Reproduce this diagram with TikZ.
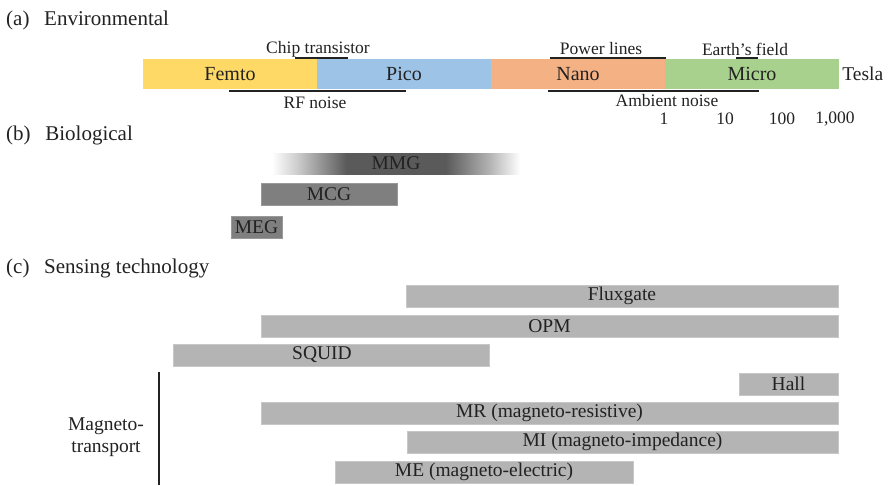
\documentclass[tikz,border=0pt]{standalone}
\usepackage{fontspec}
\setmainfont{Liberation Serif}
\usetikzlibrary{positioning}
\definecolor{femtocol}{HTML}{FFD966}
\definecolor{picocol}{HTML}{9DC3E6}
\definecolor{nanocol}{HTML}{F4B183}
\definecolor{microcol}{HTML}{A9D18E}
\definecolor{biogray}{HTML}{7F7F7F}
\definecolor{mmgdark}{HTML}{5A5A5A}
\definecolor{techgray}{HTML}{B4B4B4}
\definecolor{inkcol}{HTML}{222222}
\pgfdeclarehorizontalshading{mmgshade}{100bp}{color(0bp)=(white); color(25bp)=(white); color(30bp)=(mmgdark!30!white); color(40bp)=(mmgdark); color(60bp)=(mmgdark); color(69bp)=(mmgdark!45!white); color(75bp)=(white); color(100bp)=(white)}
\tikzset{
	scalebar/.style = {minimum width=174pt, minimum height=30pt, inner sep=0pt, text=inkcol, font=\fontsize{20}{24}\selectfont},
	biobar/.style = {fill=biogray, draw=biogray!80!white, minimum height=22pt, inner sep=0pt, text=inkcol, font=\fontsize{19.5}{22}\selectfont},
	techbar/.style = {fill=techgray, draw=techgray!75!white, minimum height=22pt, inner sep=0pt, text=inkcol, font=\fontsize{19.5}{22}\selectfont},
	rangeline/.style = {line width=2pt, draw=inkcol},
	seclabel/.style = {anchor=base west, inner sep=0pt, text=inkcol, font=\fontsize{21}{25}\selectfont},
	smalllabel/.style = {inner sep=0pt, text=inkcol, font=\fontsize{17.5}{20}\selectfont},
}

\begin{document}
\begin{tikzpicture}[x=1pt, y=-1pt]
\useasboundingbox (0,0) rectangle (892,485);

% NODES

% (a) environmental scale
\node (seca) [seclabel] at (6,25) {(a)\hspace{0.45em} Environmental};
\node (femto) [scalebar, fill=femtocol] at (230,74) {Femto};
\node (pico) [scalebar, fill=picocol] at (404,74) {Pico};
\node (nano) [scalebar, fill=nanocol] at (578,74) {Nano};
\node (micro) [scalebar, fill=microcol] at (752,74) {Micro};
\node (tesla) [right=3pt of micro, inner sep=0pt, text=inkcol, font=\fontsize{19.5}{22}\selectfont] {Tesla};

\node (chip) [smalllabel] at (318,49) {Chip transistor};
\node (power) [smalllabel] at (601,49) {Power lines};
\node (earth) [smalllabel] at (745,49) {Earth’s field};
\node (rfnoise) [smalllabel] at (315,103) {RF noise};
\node (ambient) [smalllabel] at (667,101) {Ambient noise};
\node (one) [smalllabel] at (664,119) {1};
\node (ten) [smalllabel] at (725,119) {10};
\node (hundred) [smalllabel] at (782,119) {100};
\node (thousand) [smalllabel] at (835,119) {1,000};

\coordinate (chip-l) at (295,58);   \coordinate (chip-r) at (348,58);
\coordinate (power-l) at (550,58);  \coordinate (power-r) at (666,58);
\coordinate (earth-l) at (736,58);  \coordinate (earth-r) at (758,58);
\coordinate (rf-l) at (229,91);     \coordinate (rf-r) at (406,91);
\coordinate (amb-l) at (548,91);    \coordinate (amb-r) at (759,91);

% (b) biological
\node (secb) [seclabel] at (6,140) {(b)\hspace{0.45em} Biological};
\node (mmg) [shading=mmgshade, minimum width=248pt, minimum height=21pt, inner sep=0pt, text=inkcol, font=\fontsize{19.5}{22}\selectfont] at (396,163.5) {MMG};
\node (mcg) [biobar, minimum width=136pt] at (329,194.5) {MCG};
\node (meg) [biobar, minimum width=51pt] at (256.5,227) {MEG};

% (c) sensing technology
\node (secc) [seclabel] at (6,273) {(c)\hspace{0.45em} Sensing technology};
\node (fluxgate) [techbar, minimum width=432pt] at (622,296) {Fluxgate};
\node (opm) [techbar, minimum width=577pt] at (549.5,326) {OPM};
\node (squid) [techbar, minimum width=316pt] at (331,355) {\hspace*{-18pt}SQUID};
\node (hall) [techbar, minimum width=99pt] at (788.5,384) {Hall};
\node (mr) [techbar, minimum width=577pt] at (549.5,413) {MR (magneto-resistive)};
\node (mi) [techbar, minimum width=431pt] at (622.5,442) {MI (magneto-impedance)};
\node (me) [techbar, minimum width=298pt] at (484,472) {ME (magneto-electric)};

\node (magneto) [align=center, inner sep=0pt, text=inkcol, font=\fontsize{19.5}{22}\selectfont] at (106,437) {Magneto-\\transport};
\coordinate (brace-top) at (159,372);
\coordinate (brace-bot) at (159,485);

%CONNECTIONS
\draw [rangeline] (chip-l) -- (chip-r);
\draw [rangeline] (power-l) -- (power-r);
\draw [rangeline] (earth-l) -- (earth-r);
\draw [rangeline] (rf-l) -- (rf-r);
\draw [rangeline] (amb-l) -- (amb-r);
\draw [rangeline] (brace-top) -- (brace-bot);

\end{tikzpicture}
\end{document}
